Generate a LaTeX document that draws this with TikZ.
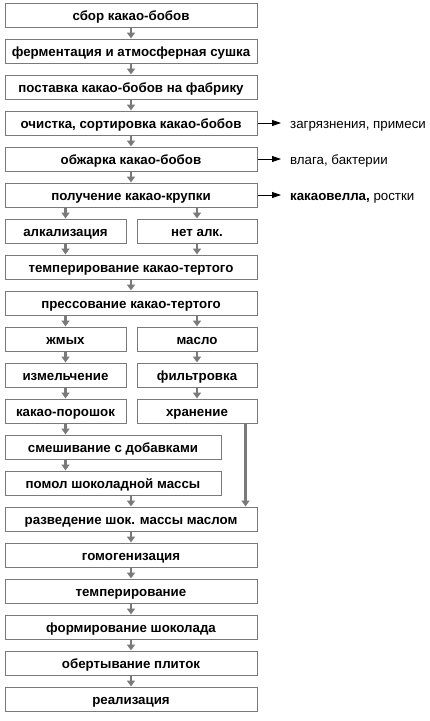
\documentclass[tikz,border=0pt]{standalone}
\usepackage{fontspec}
\setmainfont{Liberation Sans}
\usetikzlibrary{arrows.meta}
\definecolor{boxgray}{HTML}{7A7A7A}
\definecolor{arrgray}{HTML}{7A7A7A}
\tikzset{
  box/.style={draw=boxgray, line width=1pt, inner sep=0pt, minimum height=24pt, text height=10pt, text depth=0pt, font=\fontsize{13.3}{15}\selectfont\bfseries},
  full/.style={box, minimum width=252pt},
  lhalf/.style={box, minimum width=121pt},
  rhalf/.style={box, minimum width=120pt},
  mid/.style={box, minimum width=216pt},
  arr/.style={draw=arrgray, line width=2.4pt, -{Triangle[width=8pt,length=6pt]}},
  sidearr/.style={draw=black, line width=0.8pt, -{Triangle[width=6pt,length=9pt]}},
  side/.style={anchor=west, inner sep=0pt, text height=10pt, text depth=0pt, font=\fontsize{13.3}{15}\selectfont}
}
\begin{document}
\begin{tikzpicture}[x=1pt,y=-1pt]
\useasboundingbox (0,0) rectangle (430,721);
\node[full] (b1) at (131,15) {сбор какао-бобов};
\node[full] (b2) at (131,51) {ферментация и атмосферная сушка};
\node[full] (b3) at (131,87) {поставка какао-бобов на фабрику};
\node[full] (b4) at (131,123) {очистка, сортировка какао-бобов};
\node[full] (b5) at (131,159) {обжарка какао-бобов};
\node[full] (b6) at (131,195) {получение какао-крупки};
\node[lhalf] (alk) at (65.5,231) {алкализация};
\node[rhalf] (net) at (197,231) {нет алк.};
\node[full] (temp) at (131,267) {темперирование какао-тертого};
\node[full] (press) at (131,303) {прессование какао-тертого};
\node[lhalf] (zh) at (65.5,339) {жмых};
\node[rhalf] (mas) at (197,339) {масло};
\node[lhalf] (izm) at (65.5,375) {измельчение};
\node[rhalf] (filt) at (197,375) {фильтровка};
\node[lhalf] (por) at (65.5,411) {какао-порошок};
\node[rhalf] (hran) at (197,411) {хранение};
\node[mid] (smes) at (113,447) {смешивание с добавками};
\node[mid] (pomol) at (113,483) {помол шоколадной массы};
\node[full] (razv) at (131,519) {разведение шок. массы маслом};
\node[full] (gom) at (131,555) {гомогенизация};
\node[full] (tempr) at (131,591) {темперирование};
\node[full] (form) at (131,627) {формирование шоколада};
\node[full] (obert) at (131,663) {обертывание плиток};
\node[full] (real) at (131,699) {реализация};
% main arrows
\draw[arr] (b1) -- (b2);
\draw[arr] (b2) -- (b3);
\draw[arr] (b3) -- (b4);
\draw[arr] (b4) -- (b5);
\draw[arr] (b5) -- (b6);
\draw[arr] (b6.south -| alk.north) -- (alk.north);
\draw[arr] (b6.south -| net.north) -- (net.north);
\draw[arr] (alk.south) -- (alk.south |- temp.north);
\draw[arr] (net.south) -- (net.south |- temp.north);
\draw[arr] (temp) -- (press);
\draw[arr] (press.south -| zh.north) -- (zh.north);
\draw[arr] (press.south -| mas.north) -- (mas.north);
\draw[arr] (zh) -- (izm);
\draw[arr] (mas) -- (filt);
\draw[arr] (izm) -- (por);
\draw[arr] (filt) -- (hran);
\draw[arr] (por.south) -- (por.south |- smes.north);
\draw[arr] (smes.south -| por.south) -- (pomol.north -| por.south);
\draw[arr] (pomol.south -| razv.north) -- (razv.north);
\coordinate (h1) at ([xshift=-12pt]hran.south east);
\draw[arr] (h1) -- (h1 |- razv.north);
\draw[arr] (razv) -- (gom);
\draw[arr] (gom) -- (tempr);
\draw[arr] (tempr) -- (form);
\draw[arr] (form) -- (obert);
\draw[arr] (obert) -- (real);
% side outputs
\coordinate (s4) at (281,123);
\coordinate (s5) at (281,159);
\coordinate (s6) at (281,195);
\draw[sidearr] (b4.east) -- (s4);
\draw[sidearr] (b5.east) -- (s5);
\draw[sidearr] (b6.east) -- (s6);
\node[side] (t4) at (290,123) {загрязнения, примеси};
\node[side] (t5) at (290,159) {влага, бактерии};
\node[side] (t6) at (290,195) {\bfseries какаовелла,\mdseries{} ростки};
\end{tikzpicture}
\end{document}
